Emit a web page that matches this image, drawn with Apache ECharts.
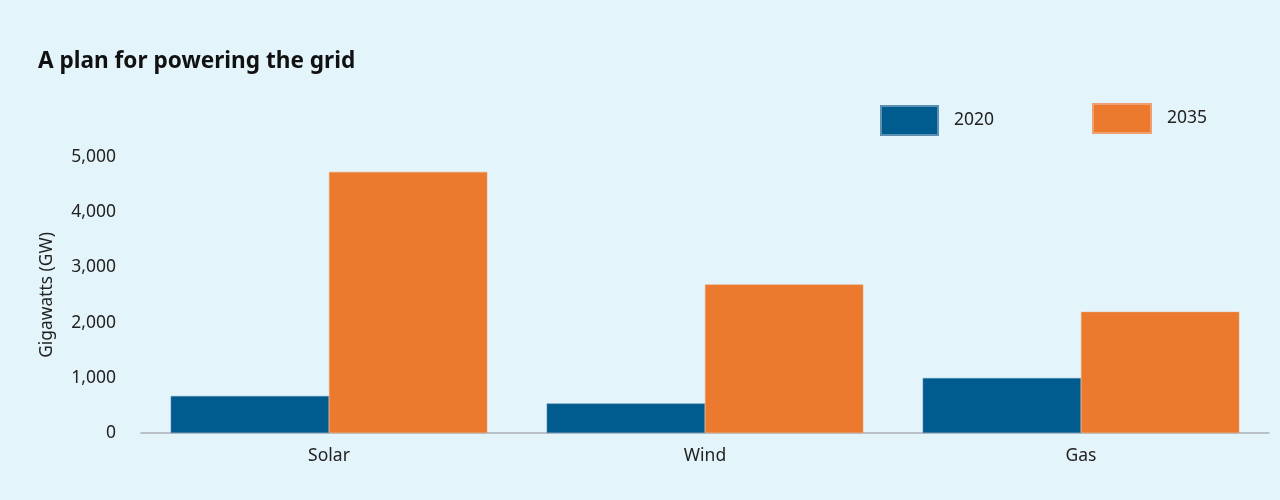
<!DOCTYPE html>
<html>
<head>
<meta charset="utf-8">
<script src="https://cdn.jsdelivr.net/npm/echarts@6/dist/echarts.min.js"></script>
<style>
html,body{margin:0;padding:0;background:#e4f4fb;}
#c{width:1280px;height:500px;}
</style>
</head>
<body>
<div id="c"></div>
<script>
const categories = ['Solar', 'Wind', 'Gas'];
const values2020 = [670, 535, 995];
const values2035 = [4730, 2690, 2195];
const yTicks = [0, 1000, 2000, 3000, 4000, 5000];

const chart = echarts.init(document.getElementById('c'));
const font = 'Noto Sans';
chart.setOption({
  backgroundColor: '#e4f4fb',
  animation: false,
  title: {
    text: 'A plan for powering the grid',
    left: 38, top: 50, padding: 0,
    textStyle: {fontFamily: font, fontSize: 22.6, fontWeight: 'bold', color: '#111'}
  },
  legend: [
    {data: ['2020'], left: 880, top: 105, itemWidth: 57, itemHeight: 29, itemGap: 0,
     textStyle: {fontFamily: font, fontSize: 17.5, color: '#222', padding: [0,0,0,11]}, icon: 'rect', padding: 0},
    {data: ['2035'], left: 1092, top: 103, itemWidth: 58, itemHeight: 29, itemGap: 0,
     textStyle: {fontFamily: font, fontSize: 17.5, color: '#222', padding: [0,0,0,11]}, icon: 'rect', padding: 0}
  ],
  grid: {left: 141, right: 11, top: 157, bottom: 67, containLabel: false},
  xAxis: {
    type: 'category', data: categories,
    axisLine: {lineStyle: {color: '#a9b0b5', width: 1.5}},
    axisTick: {show: false},
    axisLabel: {fontFamily: font, fontSize: 17.5, color: '#222', margin: 14}
  },
  yAxis: {
    type: 'value', min: 0, max: 5000, interval: 1000,
    name: 'Gigawatts (GW)', nameLocation: 'middle', nameGap: 85,
    nameTextStyle: {fontFamily: font, fontSize: 17.4, color: '#222'},
    splitLine: {show: false},
    axisLine: {show: false}, axisTick: {show: false},
    axisLabel: {fontFamily: font, fontSize: 17.5, color: '#222', margin: 25,
      formatter: v => yTicks.includes(v) ? v.toLocaleString('en-US') : ''}
  },
  series: [
    {name: '2020', type: 'bar', data: values2020, barGap: '0%', barCategoryGap: '15.8%',
     itemStyle: {color: '#005b8e', borderColor: '#5c8fb0', borderWidth: 0.5}},
    {name: '2035', type: 'bar', data: values2035,
     itemStyle: {color: '#eb7a2e', borderColor: '#f0a070', borderWidth: 0.5}}
  ]
});
</script>
</body>
</html>
